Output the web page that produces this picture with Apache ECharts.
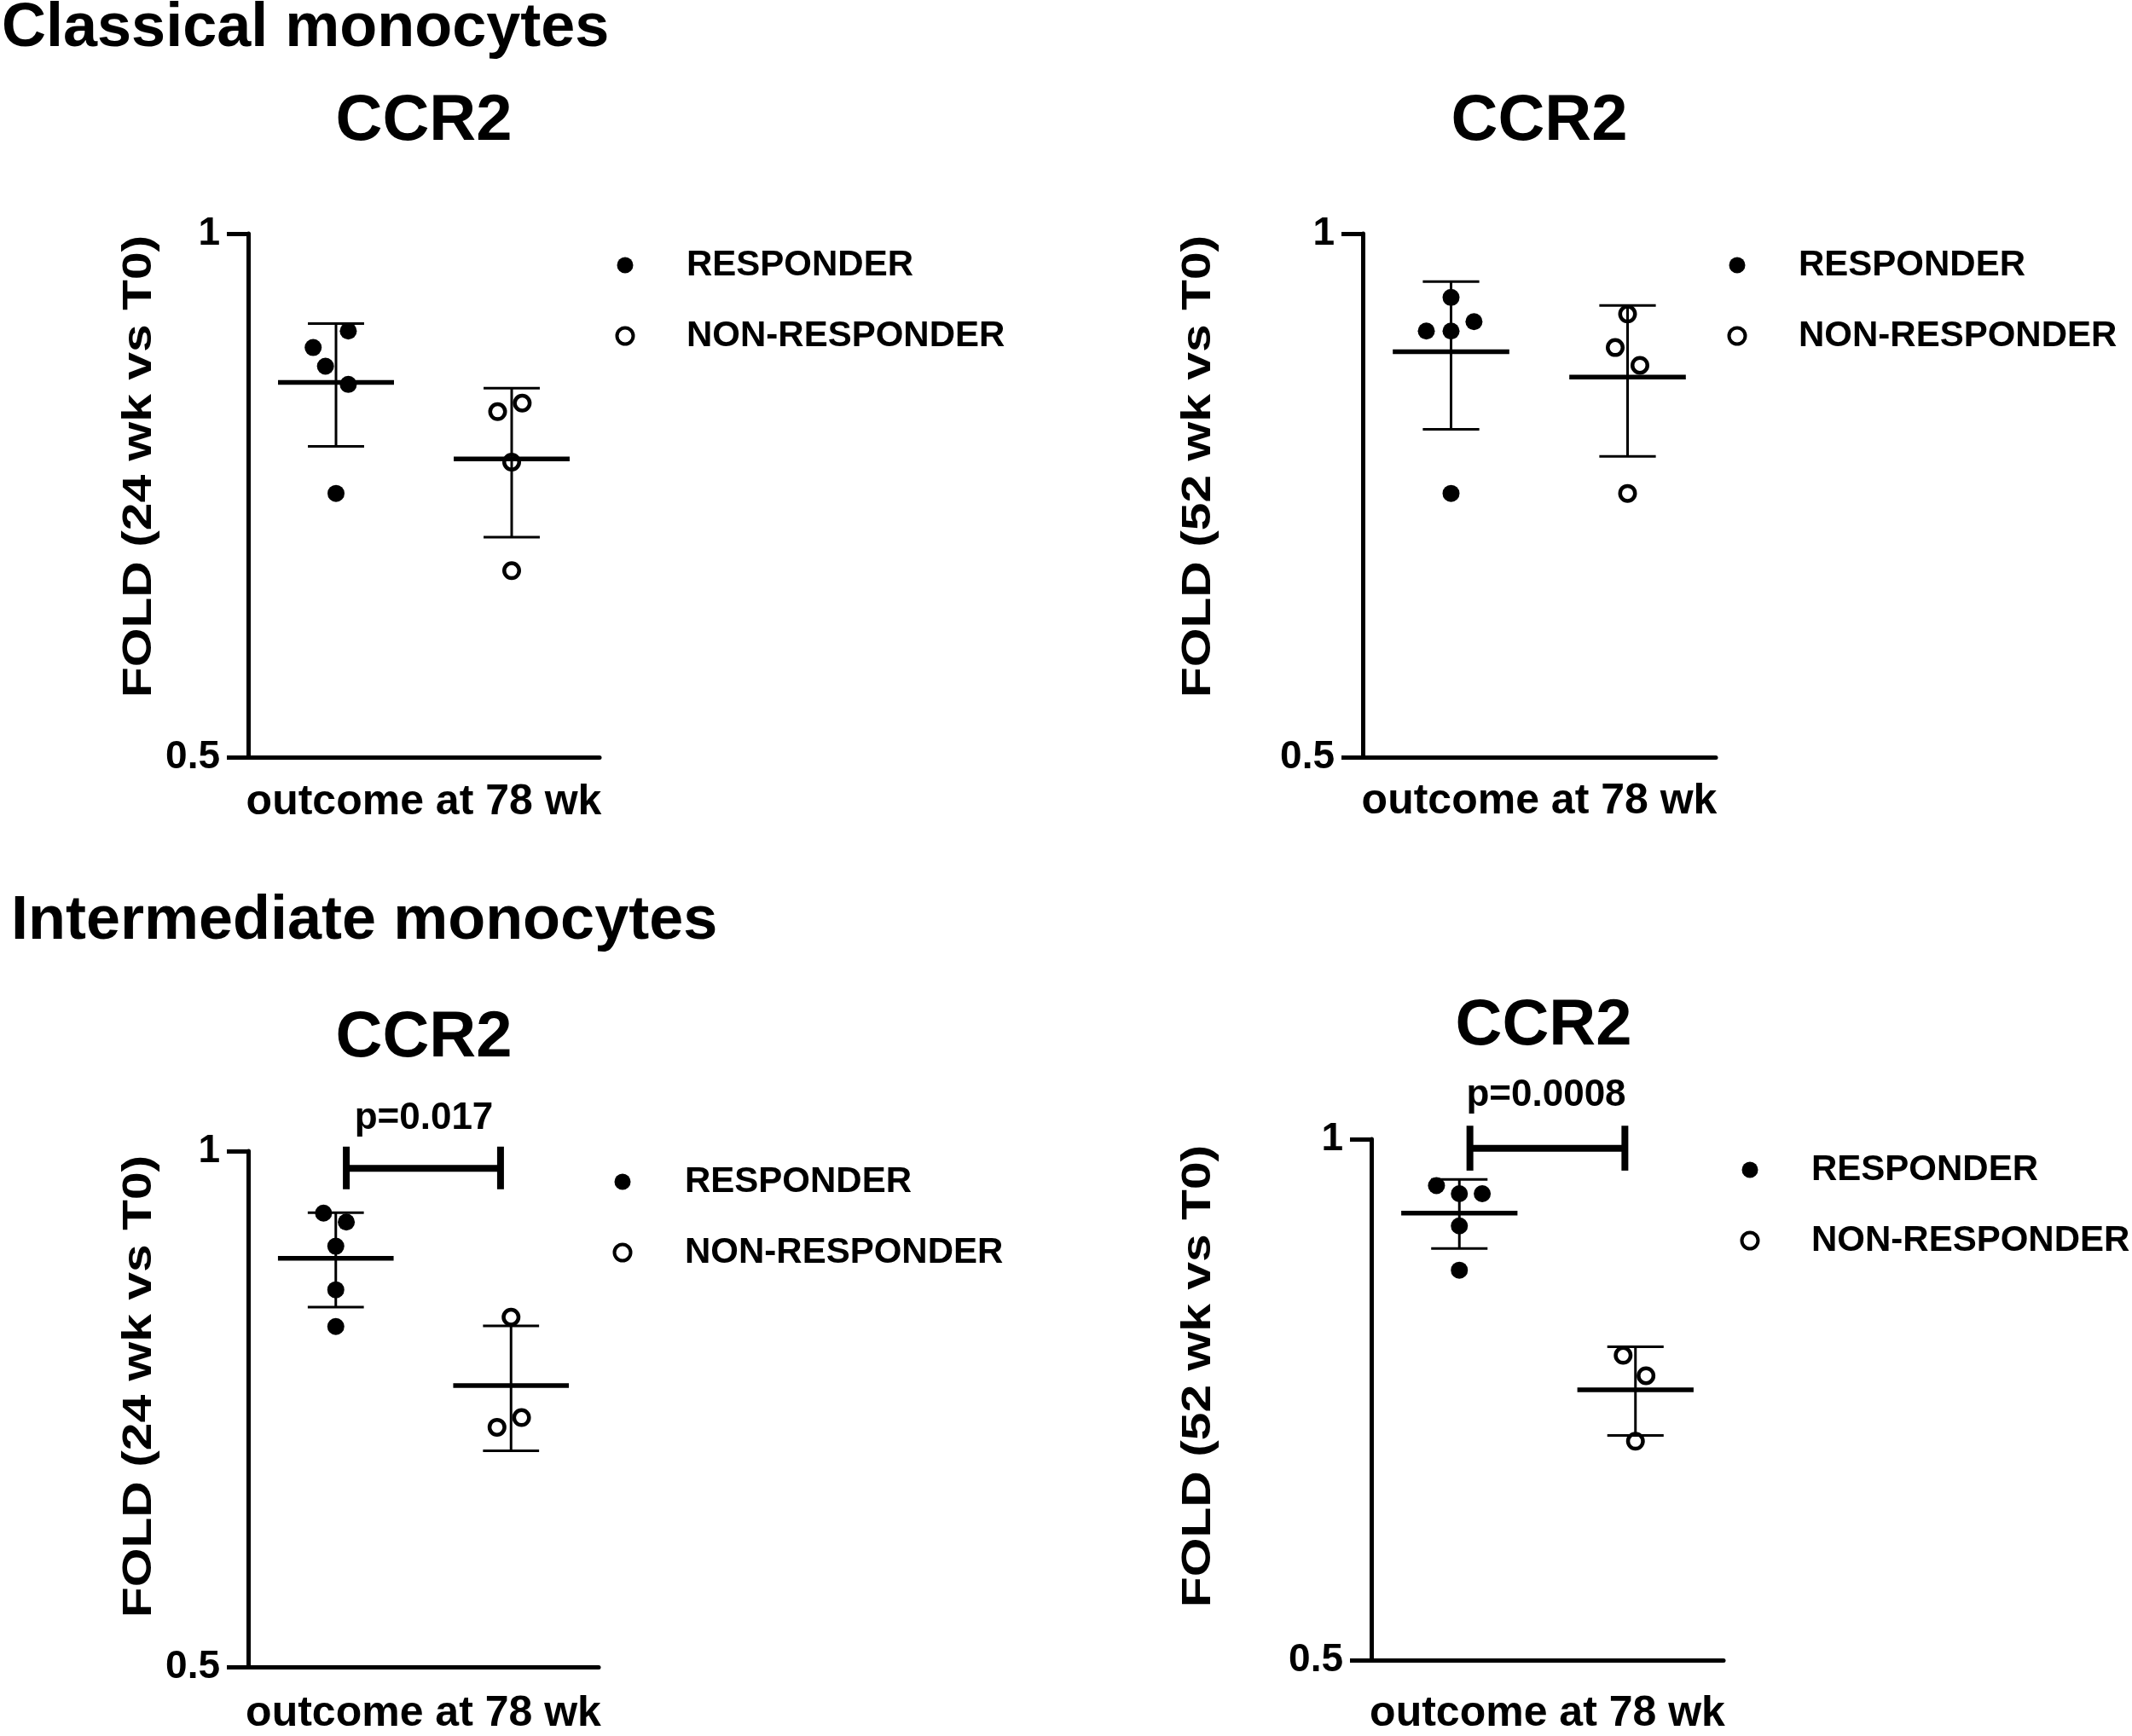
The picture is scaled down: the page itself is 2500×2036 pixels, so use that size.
<!DOCTYPE html>
<html><head><meta charset="utf-8">
<script src="https://cdn.jsdelivr.net/npm/echarts@6/dist/echarts.min.js"></script>
<style>html,body{margin:0;padding:0;background:#fff}#c{width:2500px;height:2036px}</style>
</head><body><div id="c"></div>
<script>
// ---------- data ----------
const groupNames = ['RESPONDER', 'NON-RESPONDER'];
const yTickValues = [0.5, 1];
const sectionTitles = ['Classical monocytes', 'Intermediate monocytes'];
const panelTitles = ['CCR2', 'CCR2', 'CCR2', 'CCR2'];
const yAxisTitles = ['FOLD (24 wk vs T0)', 'FOLD (52 wk vs T0)', 'FOLD (24 wk vs T0)', 'FOLD (52 wk vs T0)'];
const xAxisTitle = 'outcome at 78 wk';

// Panel 1: Classical, 24 wk
const p1Resp = [0.879, 0.860, 0.839, 0.819, 0.709];
const p1RespJitter = [0.07, -0.13, -0.06, 0.07, 0];
const p1NonResp = [0.799, 0.790, 0.739, 0.640];
const p1NonRespJitter = [0.06, -0.08, 0, 0];
// Panel 2: Classical, 52 wk
const p2Resp = [0.919, 0.890, 0.879, 0.879, 0.709];
const p2RespJitter = [0, 0.13, -0.14, 0, 0];
const p2NonResp = [0.899, 0.860, 0.840, 0.709];
const p2NonRespJitter = [0, -0.07, 0.07, 0];
// Panel 3: Intermediate, 24 wk
const p3Resp = [0.920, 0.909, 0.880, 0.830, 0.790];
const p3RespJitter = [-0.07, 0.06, 0, 0, 0];
const p3NonResp = [0.800, 0.699, 0.690];
const p3NonRespJitter = [0, 0.06, -0.08];
// Panel 4: Intermediate, 52 wk
const p4Resp = [0.940, 0.930, 0.930, 0.891, 0.840];
const p4RespJitter = [-0.13, 0, 0.13, 0, 0];
const p4NonResp = [0.750, 0.730, 0.669];
const p4NonRespJitter = [-0.07, 0.06, 0];

// significance annotations
const sigPanels = [2, 3];
const sigLabels = ['p=0.017', 'p=0.0008'];
const sigLevel = [0.977, 0.988];
const sigTop = [1.006, 1.018];
const sigBottom = [0.950, 0.959];

// ---------- layout / style ----------
const FONT = '"Liberation Sans", Arial, Helvetica, sans-serif';
const panels = [
  { r: p1Resp, rj: p1RespJitter, n: p1NonResp, nj: p1NonRespJitter },
  { r: p2Resp, rj: p2RespJitter, n: p2NonResp, nj: p2NonRespJitter },
  { r: p3Resp, rj: p3RespJitter, n: p3NonResp, nj: p3NonRespJitter },
  { r: p4Resp, rj: p4RespJitter, n: p4NonResp, nj: p4NonRespJitter }
];
const grids = [
  { left: 291, top: 274, width: 412, height: 614 },
  { left: 1598, top: 274, width: 414, height: 614 },
  { left: 291, top: 1350, width: 411, height: 612 },
  { left: 1608, top: 1336, width: 413, height: 615 }
];
const xNameGap = [28, 27, 30, 38];
const titlePos = [[497, 143], [1805, 143], [497, 1218], [1810, 1204]];
const yTitlePos = [[163, 547], [1405, 547], [163, 1626], [1405, 1614]];
const legendPos = [[731, 311], [2035, 311], [728, 1386], [2050, 1372]];
const legendTextX = [803, 2107, 801, 2122];
const sigTextPos = [[497, 1312], [1813, 1285]];
const ICON = 19;

function stats(a) {
  const m = a.reduce((s, v) => s + v, 0) / a.length;
  const sd = Math.sqrt(a.reduce((s, v) => s + (v - m) * (v - m), 0) / (a.length - 1));
  return [m, sd];
}

const option = {
  animation: false,
  backgroundColor: '#fff',
  grid: grids.map(g => Object.assign({ containLabel: false }, g)),
  xAxis: grids.map((g, i) => ({
    gridIndex: i, type: 'value', min: -0.5, max: 1.5,
    axisLine: { show: true, onZero: false, lineStyle: { color: '#000', width: 5 } },
    axisTick: { show: false }, axisLabel: { show: false }, splitLine: { show: false },
    name: xAxisTitle, nameLocation: 'middle', nameGap: xNameGap[i],
    nameTextStyle: { fontFamily: FONT, fontSize: 50, fontWeight: 'bold', color: '#000', lineHeight: 50, verticalAlign: 'top' }
  })),
  yAxis: grids.map((g, i) => ({
    gridIndex: i, type: 'log', logBase: 2, min: yTickValues[0], max: yTickValues[1],
    axisLine: { show: true, onZero: false, lineStyle: { color: '#000', width: 5 } },
    axisTick: { show: true, length: 25, lineStyle: { color: '#000', width: 5 } },
    minorTick: { show: false }, splitLine: { show: false },
    axisLabel: { fontFamily: FONT, fontSize: 46, fontWeight: 'bold', color: '#000', margin: 33,
      formatter: v => String(+(+v).toFixed(2)) }
  })),
  legend: legendPos.map((p, i) => ({
    data: [
      { name: groupNames[0], itemStyle: { color: '#000' } },
      { name: groupNames[1], itemStyle: { color: '#fff', borderColor: '#000', borderWidth: 4 } }
    ],
    orient: 'vertical', left: p[0] - ICON / 2, top: p[1] - 21,
    itemWidth: ICON, itemHeight: ICON, itemGap: 41, padding: 0, selectedMode: false,
    textStyle: { fontFamily: FONT, fontSize: 42, fontWeight: 'bold', color: '#000', lineHeight: 42,
      padding: [0, 0, 0, legendTextX[i] - (p[0] + ICON / 2) - 5] }
  })),
  series: [],
  graphic: []
};

panels.forEach((p, i) => {
  option.series.push({
    name: groupNames[0], type: 'scatter', xAxisIndex: i, yAxisIndex: i,
    symbol: 'circle', symbolSize: 20, itemStyle: { color: '#000', opacity: 1 }, z: 2,
    data: p.r.map((v, k) => [0 + p.rj[k], v])
  });
  option.series.push({
    name: groupNames[1], type: 'scatter', xAxisIndex: i, yAxisIndex: i,
    symbol: 'circle', symbolSize: 17.5, itemStyle: { color: '#fff', borderColor: '#000', borderWidth: 4.5, opacity: 1 }, z: 2,
    data: p.n.map((v, k) => [1 + p.nj[k], v])
  });
  const sR = stats(p.r), sN = stats(p.n);
  option.series.push({
    type: 'custom', xAxisIndex: i, yAxisIndex: i, z: 3, silent: true,
    data: [[0, sR[0], sR[1]], [1, sN[0], sN[1]]],
    renderItem: (params, api) => {
      const x = api.value(0), m = api.value(1), s = api.value(2);
      const L = (a, b, w) => ({ type: 'line', shape: { x1: a[0], y1: a[1], x2: b[0], y2: b[1] }, style: { stroke: '#000', lineWidth: w } });
      return { type: 'group', children: [
        L(api.coord([x, m + s]), api.coord([x, m - s]), 3),
        L(api.coord([x - 0.16, m + s]), api.coord([x + 0.16, m + s]), 3),
        L(api.coord([x - 0.16, m - s]), api.coord([x + 0.16, m - s]), 3),
        L(api.coord([x - 0.33, m]), api.coord([x + 0.33, m]), 5.5)
      ] };
    }
  });
});

sigPanels.forEach((pi, k) => {
  option.series.push({
    type: 'custom', xAxisIndex: pi, yAxisIndex: pi, z: 4, silent: true, clip: false,
    data: [[0.06, 0.94, sigLevel[k], sigTop[k], sigBottom[k]]],
    renderItem: (params, api) => {
      const x0 = api.value(0), x1 = api.value(1), y = api.value(2), yt = api.value(3), yb = api.value(4);
      const L = (a, b) => ({ type: 'line', shape: { x1: a[0], y1: a[1], x2: b[0], y2: b[1] }, style: { stroke: '#000', lineWidth: 8 } });
      return { type: 'group', children: [
        L(api.coord([x0, y]), api.coord([x1, y])),
        L(api.coord([x0, yt]), api.coord([x0, yb])),
        L(api.coord([x1, yt]), api.coord([x1, yb]))
      ] };
    }
  });
  option.graphic.push({ type: 'text', x: sigTextPos[k][0], y: sigTextPos[k][1],
    style: { text: sigLabels[k], fontFamily: FONT, fontSize: 44, fontWeight: 'bold', fill: '#000', textAlign: 'center', textVerticalAlign: 'middle' } });
});

option.graphic.push({ type: 'text', x: 2, y: 34,
  style: { text: sectionTitles[0], fontFamily: FONT, fontSize: 72, fontWeight: 'bold', fill: '#000', textAlign: 'left', textVerticalAlign: 'middle' } });
option.graphic.push({ type: 'text', x: 13, y: 1081,
  style: { text: sectionTitles[1], fontFamily: FONT, fontSize: 72, fontWeight: 'bold', fill: '#000', textAlign: 'left', textVerticalAlign: 'middle' } });
titlePos.forEach((p, i) => option.graphic.push({ type: 'text', x: p[0], y: p[1],
  style: { text: panelTitles[i], fontFamily: FONT, fontSize: 76, fontWeight: 'bold', fill: '#000', textAlign: 'center', textVerticalAlign: 'middle' } }));
yTitlePos.forEach((p, i) => option.graphic.push({ type: 'text', x: p[0], y: p[1], rotation: Math.PI / 2, scaleX: 1.2, scaleY: 1,
  style: { text: yAxisTitles[i], fontFamily: FONT, fontSize: 49, fontWeight: 'bold', fill: '#000', textAlign: 'center', textVerticalAlign: 'middle' } }));

const chart = echarts.init(document.getElementById('c'), null, { renderer: 'canvas' });
chart.setOption(option);
</script></body></html>
